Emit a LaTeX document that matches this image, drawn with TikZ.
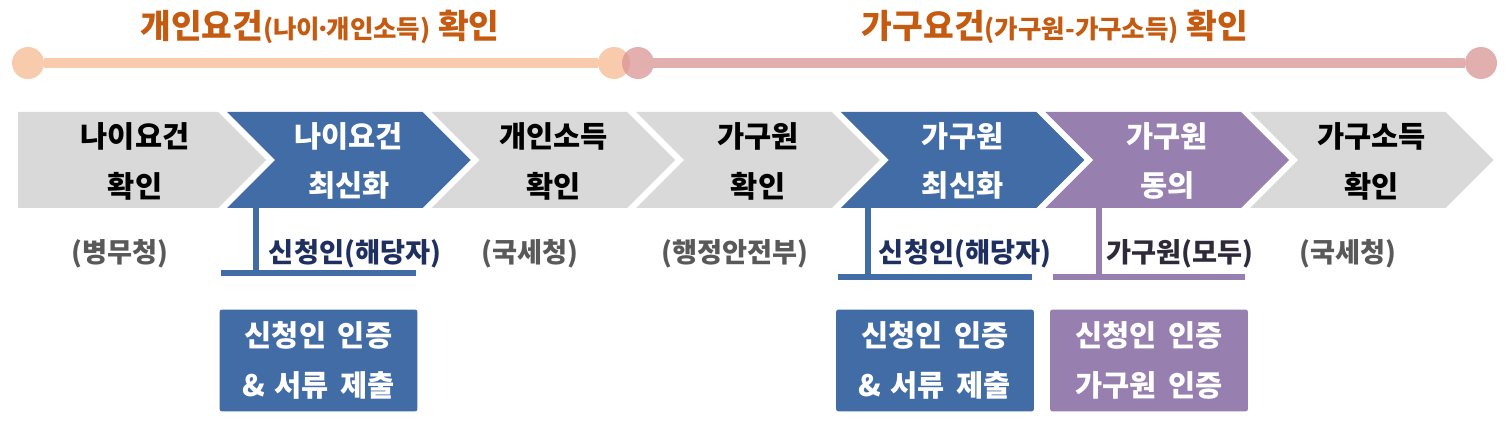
\documentclass[tikz,border=0pt]{standalone}
\usepackage{fontspec}
\setmainfont{Noto Sans CJK KR}
\definecolor{StepGray}{HTML}{D9D9D9}
\definecolor{StepBlue}{HTML}{416CA5}
\definecolor{StepPurple}{HTML}{977FB0}
\definecolor{TitleOrange}{HTML}{C55A11}
\definecolor{TrackPeach}{HTML}{F8CBAD}
\definecolor{TrackRose}{HTML}{E2AFAF}
\definecolor{TrackRoseDeep}{HTML}{D99594}
\definecolor{SourceGray}{HTML}{595959}
\definecolor{WhoNavy}{HTML}{1F3060}
\definecolor{WhoDark}{HTML}{2F2A3A}

\begin{document}
\begin{tikzpicture}[x=0.02cm,y=-0.02cm,
  steplabel/.style={align=center,font=\bfseries\fontsize{16.8}{28.4}\selectfont},
  source/.style={text=SourceGray,font=\bfseries\fontsize{15.5}{17}\selectfont},
  who/.style={font=\bfseries\fontsize{15.5}{17}\selectfont},
  task/.style={rectangle,rounded corners=1.5pt,minimum width=3.96cm,minimum height=2.04cm,
    inner sep=0pt,text=white,align=center,font=\bfseries\fontsize{16.8}{28.4}\selectfont},
  goal/.style={text=TitleOrange,font=\bfseries},
  bar/.style={line width=3.4pt},
  track/.style={line width=6.2pt},
  dot/.style={circle,minimum size=0.64cm,inner sep=0pt}]
  \useasboundingbox (0,0) rectangle (1512,422);

  % titles and tracks
  \node[goal] (goal1) at (320,27) {{\fontsize{19}{22}\selectfont 개인요건}{\fontsize{14.5}{22}\selectfont(나이\kern-.18em·\kern-.18em개인소득)}{\fontsize{19}{22}\selectfont\ 확인}};
  \node[goal] (goal2) at (1055,27) {{\fontsize{19}{22}\selectfont 가구요건}{\fontsize{14.5}{22}\selectfont(가구원-가구소득)}{\fontsize{19}{22}\selectfont\ 확인}};
  \node[dot,fill=TrackPeach] (pa) at (28,63) {};
  \node[dot,fill=TrackPeach] (pb) at (614,63) {};
  \draw[track,TrackPeach] (pa) -- (pb);
  \node[dot,fill=TrackRoseDeep,fill opacity=.75] (ra) at (638,63) {};
  \node[dot,fill=TrackRose] (rb) at (1481,63) {};
  \draw[track,TrackRose] (ra.center) -- (rb);

  % chevrons
  \foreach \i/\body/\ink/\txt in {1/StepGray/black/{나이요건\\확인},
      2/StepBlue/white/{나이요건\\최신화}, 3/StepGray/black/{개인소득\\확인},
      4/StepGray/black/{가구원\\확인}, 5/StepBlue/white/{가구원\\최신화},
      6/StepPurple/white/{가구원\\동의}, 7/StepGray/black/{가구소득\\확인}}{
    \pgfmathsetmacro\nx{\i==1 ? 0 : 48}
    \pgfmathsetmacro\xl{\i==1 ? 18 : 227+204.6*(\i-2)}
    \pgfmathsetmacro\xr{218+204.6*(\i-1)}
    \pgfmathsetmacro\tx{\i==1 ? 135 : (\xl+\xr)/2+24}
    \fill[\body] (\xl,112) -- (\xr,112) -- ({\xr+48},160) -- (\xr,208)
      -- (\xl,208) -- ({\xl+\nx},160) -- cycle;
    \node[steplabel,text=\ink] (step\i) at (\tx,161) {\txt};
  }

  % sources
  \node[source] (src1) at (120,254) {(병무청)};
  \node[source] (src3) at (530,254) {(국세청)};
  \node[source] (src4) at (735,254) {(행정안전부)};
  \node[source] (src7) at (1348,254) {(국세청)};

  % who takes part
  \coordinate (hook1) at (256,208); \coordinate (foot1) at (256,273);
  \coordinate (bar1w) at (221,273); \coordinate (bar1e) at (416,273);
  \draw[bar,StepBlue] (hook1) -- (foot1); \draw[bar,StepBlue] (bar1w) -- (bar1e);
  \node[who,text=WhoNavy] (who1) at (355,254) {신청인(해당자)};
  \coordinate (hook2) at (868,208); \coordinate (foot2) at (868,277);
  \coordinate (bar2w) at (838,277); \coordinate (bar2e) at (1032,277);
  \draw[bar,StepBlue] (hook2) -- (foot2); \draw[bar,StepBlue] (bar2w) -- (bar2e);
  \node[who,text=WhoNavy] (who2) at (965,254) {신청인(해당자)};
  \coordinate (hook3) at (1099,208); \coordinate (foot3) at (1099,277);
  \coordinate (bar3w) at (1053,277); \coordinate (bar3e) at (1245,277);
  \draw[bar,StepPurple] (hook3) -- (foot3); \draw[bar,StepPurple] (bar3w) -- (bar3e);
  \node[who,text=WhoDark] (who3) at (1180,254) {가구원(모두)};

  % what is done
  \node[task,fill=StepBlue] (proof1) at (318.5,360.5) {신청인\hspace{.4em}인증\\\&\hspace{.3em}서류\hspace{.4em}제출};
  \node[task,fill=StepBlue] (proof2) at (935,360.5) {신청인\hspace{.4em}인증\\\&\hspace{.3em}서류\hspace{.4em}제출};
  \node[task,fill=StepPurple] (proof3) at (1149,360.5) {신청인\hspace{.4em}인증\\가구원\hspace{.4em}인증};
\end{tikzpicture}
\end{document}
